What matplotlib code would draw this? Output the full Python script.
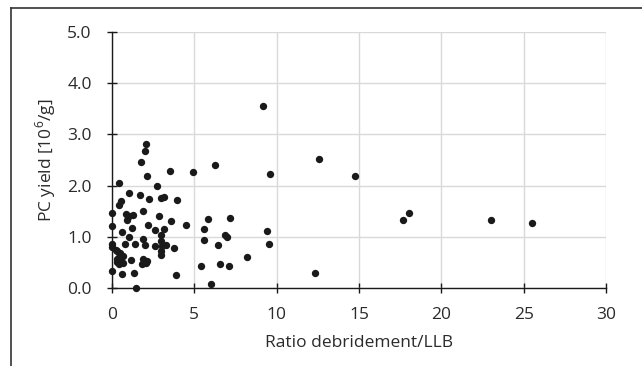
import matplotlib
matplotlib.use("Agg")
import matplotlib.pyplot as plt
from matplotlib.lines import Line2D

ratio = [0.0, 0.0, 0.0, 0.0, 0.0, 0.45, 0.55, 0.45, 0.85, 1.05, 1.25, 0.90, 1.02,
         1.72, 1.78, 2.00, 2.05, 2.15, 1.90, 2.24, 2.75, 2.95, 3.13, 3.52, 3.92,
         4.89, 6.26, 2.85, 3.56, 2.18, 4.48, 1.23, 0.62, 2.60, 3.17, 1.05, 2.99,
         0.77, 1.41, 1.90, 2.02, 2.59, 2.95, 3.01, 3.29, 3.78, 2.95, 2.97,
         0.30, 0.50, 0.65, 0.40, 0.55, 0.30, 0.42, 0.65, 0.30, 0.26,
         1.13, 1.90, 2.10, 1.85, 2.05, 0.63, 1.31, 3.88, 1.43,
         5.86, 7.15, 5.58, 5.60, 6.85, 7.00, 6.44, 9.41, 9.52, 8.22, 5.41, 6.55,
         7.11, 6.02, 12.3, 9.17, 9.62, 12.55, 14.75, 17.68, 18.02, 23.0, 25.5]
pc_yield = [1.46, 1.21, 0.85, 0.80, 0.33, 1.63, 1.69, 2.05, 1.44, 1.40, 1.42, 1.33, 1.85,
            1.82, 2.46, 2.68, 2.82, 2.19, 1.50, 1.74, 2.00, 1.75, 1.77, 2.28, 1.71,
            2.26, 2.41, 1.41, 1.31, 1.24, 1.24, 1.17, 1.10, 1.14, 1.15, 0.99, 1.03,
            0.85, 0.85, 0.95, 0.84, 0.83, 0.92, 0.82, 0.84, 0.79, 0.73, 0.65,
            0.72, 0.68, 0.62, 0.60, 0.55, 0.50, 0.47, 0.48, 0.56, 0.75,
            0.54, 0.57, 0.52, 0.47, 0.48, 0.27, 0.30, 0.25, 0.00,
            1.35, 1.36, 1.16, 0.93, 1.04, 1.00, 0.84, 1.12, 0.86, 0.61, 0.43, 0.47,
            0.42, 0.08, 0.29, 3.56, 2.22, 2.52, 2.19, 1.32, 1.46, 1.32, 1.26]

x_ticks = [0, 5, 10, 15, 20, 25, 30]
y_ticks = [0.0, 1.0, 2.0, 3.0, 4.0, 5.0]
x_label = "Ratio debridement/LLB"
y_label = "PC yield [10$^{6}$/g]"

plt.rcParams['font.family'] = ['Open Sans', 'DejaVu Sans']
plt.rcParams['mathtext.fontset'] = 'custom'
plt.rcParams['mathtext.rm'] = 'Open Sans'

W, H = 642, 366
fig = plt.figure(figsize=(W / 100, H / 100), dpi=100)
ax = fig.add_axes([112 / W, 1 - 288 / H, (606 - 112) / W, (288 - 32) / H])

ax.scatter(ratio, pc_yield, s=28, color='#1a1a1a', linewidths=0, zorder=3, clip_on=False)

ax.set_xlim(0, 30)
ax.set_ylim(0, 5)
ax.set_xticks(x_ticks)
ax.set_xticklabels([str(t) for t in x_ticks])
ax.set_yticks(y_ticks)
ax.set_yticklabels([f"{t:.1f}" for t in y_ticks])
ax.grid(True, color='#d9d9d9', linewidth=1.0, zorder=0)
ax.set_axisbelow(True)
for s in ['top', 'right']:
    ax.spines[s].set_visible(False)
for s in ['left', 'bottom']:
    ax.spines[s].set_color('#1a1a1a')
    ax.spines[s].set_linewidth(1.0)
ax.tick_params(axis='both', direction='inout', length=7, width=1.0, color='#1a1a1a',
               labelsize=12.5, labelcolor='#2b2b2b')
ax.tick_params(axis='x', pad=10)
ax.tick_params(axis='y', pad=11)
ax.set_xlabel(x_label, fontsize=12.5, color='#2b2b2b', labelpad=9)
ax.set_ylabel(y_label, fontsize=12.5, color='#2b2b2b', labelpad=7)

# outer frame (cropped)
fig.add_artist(Line2D([11 / W, 11 / W], [0, 1 - 8 / H], transform=fig.transFigure,
                      color='#333333', linewidth=1.2))
fig.add_artist(Line2D([11 / W, 1], [1 - 8 / H, 1 - 8 / H], transform=fig.transFigure,
                      color='#333333', linewidth=1.2))

fig.savefig("out.png", dpi=100)
